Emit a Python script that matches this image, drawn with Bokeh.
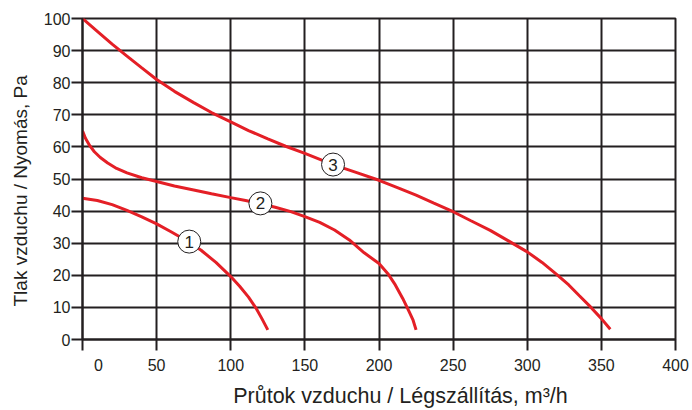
from bokeh.plotting import figure
from bokeh.embed import file_html
from bokeh.resources import INLINE
from bokeh.models import FixedTicker, ColumnDataSource
from bokeh.core.properties import value

# Curve 1
c1_x = [0, 10, 20, 30, 40, 50, 60, 72, 80, 90, 100, 106, 112, 117, 121, 125]
c1_y = [44, 43.3, 42, 40.2, 38.2, 36, 33.5, 30.3, 27.8, 24, 19.6, 16.6, 13.2, 9.8, 6.5, 3]
# Curve 2
c2_x = [0, 2, 5, 8, 12, 17, 23, 30, 40, 50, 62, 75, 87, 100, 110, 120, 130, 140, 150,
        160, 170, 180, 190, 200, 206, 211, 216, 220, 223, 225]
c2_y = [65, 62.7, 60.3, 58.5, 56.7, 55, 53.3, 51.9, 50.4, 49.2, 47.8, 46.6, 45.4, 44.2, 43.3,
        42.3, 41.2, 39.9, 38.3, 36.5, 34.1, 31, 27, 23.7, 20.5, 17, 12.8, 9, 6, 3]
# Curve 3
c3_x = [0, 10, 20, 30, 40, 50, 62, 75, 87, 100, 112, 125, 137, 150, 169, 185, 200, 212, 225,
        237, 250, 262, 275, 287, 300, 310, 320, 328, 335, 343, 350, 356]
c3_y = [100, 96, 92, 88.3, 84.6, 81, 77.3, 73.8, 70.7, 67.8, 65.1, 62.5, 60.2, 58, 54.5, 52,
        49.6, 47.4, 45, 42.5, 39.8, 37, 34, 30.8, 27.3, 24, 20.2, 17, 13.7, 10, 6.5, 3.2]

# Curve markers
mark_x = [72, 120, 169]
mark_y = [30.5, 42.4, 54.5]
mark_t = ["1", "2", "3"]

x_ticks = [0, 50, 100, 150, 200, 250, 300, 350, 400]
y_ticks = [0, 10, 20, 30, 40, 50, 60, 70, 80, 90, 100]

RED = "#e41f26"
DARK = "#231f20"
FONT = "Liberation Sans"

p = figure(frame_width=593, frame_height=321, x_range=(0, 400), y_range=(0, 100),
           output_backend="svg", toolbar_location=None,
           min_border_left=82, min_border_right=14, min_border_top=18, min_border_bottom=60)

p.outline_line_color = DARK
p.outline_line_width = 2
p.background_fill_color = "white"

for g in (p.xgrid, p.ygrid):
    g.grid_line_color = DARK
    g.grid_line_width = 2
    g.grid_line_alpha = 1.0

p.xaxis.ticker = FixedTicker(ticks=x_ticks)
p.yaxis.ticker = FixedTicker(ticks=y_ticks)
# the "0" label of the x axis sits right of its tick in the original
p.xaxis.major_label_overrides = {0: "\u2003\u20030"}

for ax in (p.xaxis, p.yaxis):
    ax.axis_line_color = DARK
    ax.axis_line_width = 2
    ax.major_tick_line_color = DARK
    ax.major_tick_line_width = 2
    ax.major_tick_out = 11
    ax.major_tick_in = 0
    ax.minor_tick_line_color = None
    ax.major_label_text_font = FONT
    ax.major_label_text_font_size = "16px"
    ax.major_label_text_color = DARK
    ax.axis_label_text_font = FONT
    ax.axis_label_text_font_style = "normal"
    ax.axis_label_text_color = DARK

p.xaxis.axis_label_text_font_size = "21.5px"
p.yaxis.axis_label_text_font_size = "19px"
p.xaxis.major_label_standoff = 6
p.yaxis.major_label_standoff = 1
# leading / trailing wide spaces shift the titles off-centre, as in the original
p.xaxis.axis_label = "\u2003\u2003Průtok vzduchu / Légszállítás, m³/h"
p.yaxis.axis_label = "Tlak vzduchu / Nyomás, Pa\u2003\u2005"
p.xaxis.axis_label_standoff = 7
p.yaxis.axis_label_standoff = 10

p.line(c1_x, c1_y, line_color=RED, line_width=3)
p.line(c2_x, c2_y, line_color=RED, line_width=3)
p.line(c3_x, c3_y, line_color=RED, line_width=3)

src = ColumnDataSource(dict(x=mark_x, y=mark_y, t=mark_t))
p.scatter("x", "y", source=src, size=23, fill_color="white", line_color=DARK, line_width=1)
p.text("x", "y", text="t", source=src, text_align="center", text_baseline="middle",
       text_font=value(FONT), text_font_size="17px", text_color=DARK)

open("out.html", "w").write(file_html(p, INLINE))
